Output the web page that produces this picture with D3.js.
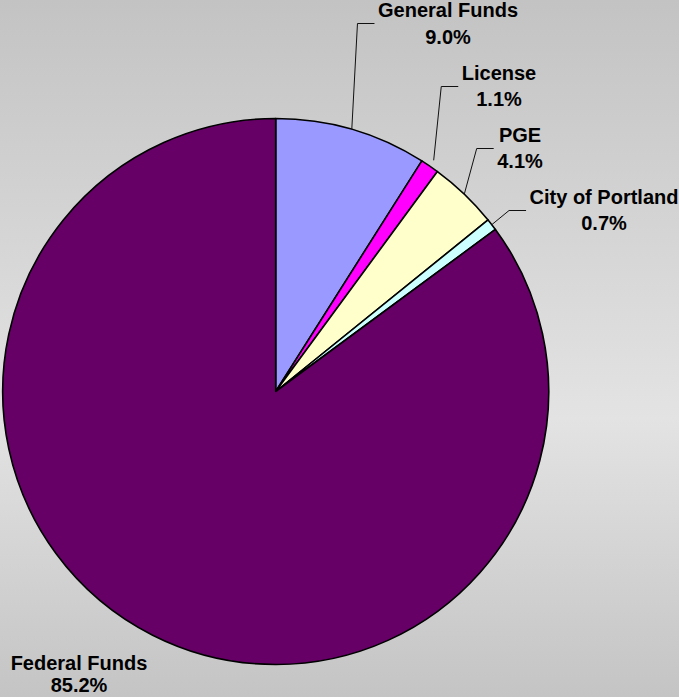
<!DOCTYPE html>
<html>
<head>
<meta charset="utf-8">
<script src="https://cdn.jsdelivr.net/npm/d3@7"></script>
<style>
  body { margin: 0; overflow: hidden; }
  svg { display: block; }
</style>
</head>
<body>
<svg id="chart"></svg>
<script>
// data
const categories = ["General Funds", "License", "PGE", "City of Portland", "Federal Funds"];
const shares = [9.0, 1.1, 4.1, 0.7, 85.2];
const shareLabels = ["9.0%", "1.1%", "4.1%", "0.7%", "85.2%"];
const sliceColors = ["#9999ff", "#ff00ff", "#ffffcc", "#ccffff", "#660066"];

// label layout: centre x, first baseline, line gap, leader overshoot (null = no leader)
const labelLayout = [
  { x: 448, y: 17, gap: 27, out: 0 },
  { x: 499, y: 80, gap: 26, out: 7 },
  { x: 520, y: 142, gap: 26, out: 0 },
  { x: 604, y: 204, gap: 26, out: 0 },
  { x: 79, y: 670, gap: 22, out: null }
];

const width = 679, height = 697;
const cx = 275.7, cy = 391.5, radius = 273;

const svg = d3.select("#chart")
  .attr("width", width)
  .attr("height", height);

// grey background, lighter towards the lower middle
const defs = svg.append("defs");
const grad = defs.append("linearGradient")
  .attr("id", "bg")
  .attr("x1", 0).attr("y1", 0)
  .attr("x2", 0).attr("y2", 1);
grad.append("stop").attr("offset", "0%").attr("stop-color", "#c3c3c3");
grad.append("stop").attr("offset", "60%").attr("stop-color", "#e3e3e3");
grad.append("stop").attr("offset", "100%").attr("stop-color", "#c4c4c4");

svg.append("rect")
  .attr("width", width)
  .attr("height", height)
  .attr("fill", "url(#bg)");

const data = categories.map((c, i) => ({ name: c, value: shares[i], label: shareLabels[i], color: sliceColors[i] }));

const pie = d3.pie()
  .value(d => d.value)
  .sort(null);

const arcs = pie(data);

const arc = d3.arc()
  .innerRadius(0)
  .outerRadius(radius);

const g = svg.append("g")
  .attr("transform", `translate(${cx}, ${cy})`);

g.selectAll("path.slice")
  .data(arcs)
  .enter()
  .append("path")
  .attr("class", "slice")
  .attr("d", arc)
  .attr("fill", d => d.data.color)
  .attr("stroke", "#000")
  .attr("stroke-width", 1.6)
  .attr("stroke-linejoin", "round");

// labels
const labels = svg.selectAll("g.label")
  .data(arcs)
  .enter()
  .append("g")
  .attr("class", "label");

labels.each(function(d, i) {
  const lay = labelLayout[i];
  const t = d3.select(this).append("text")
    .attr("text-anchor", "middle")
    .style("font-family", "'Liberation Sans', Arial, sans-serif")
    .style("font-weight", "bold")
    .style("font-size", "20px")
    .attr("fill", "#000");
  const l1 = t.append("tspan").attr("x", lay.x).attr("y", lay.y).text(d.data.name);
  const l2 = t.append("tspan").attr("x", lay.x).attr("y", lay.y + lay.gap).text(d.data.label);

  if (lay.out === null) return;

  // leader line: from the slice edge up to the left side of the label block
  const w = Math.max(l1.node().getComputedTextLength(), l2.node().getComputedTextLength());
  const mid = (d.startAngle + d.endAngle) / 2;
  const r = radius + lay.out;
  const sx = cx + r * Math.sin(mid), sy = cy - r * Math.cos(mid);
  const ex = lay.x - w / 2 - 3.5, ey = lay.y + 6.5;
  const line = d3.line();
  d3.select(this).insert("path", "text")
    .attr("d", line([[sx, sy], [ex - 17, ey], [ex, ey]]))
    .attr("fill", "none")
    .attr("stroke", "#111")
    .attr("stroke-width", 1);
});
</script>
</body>
</html>
